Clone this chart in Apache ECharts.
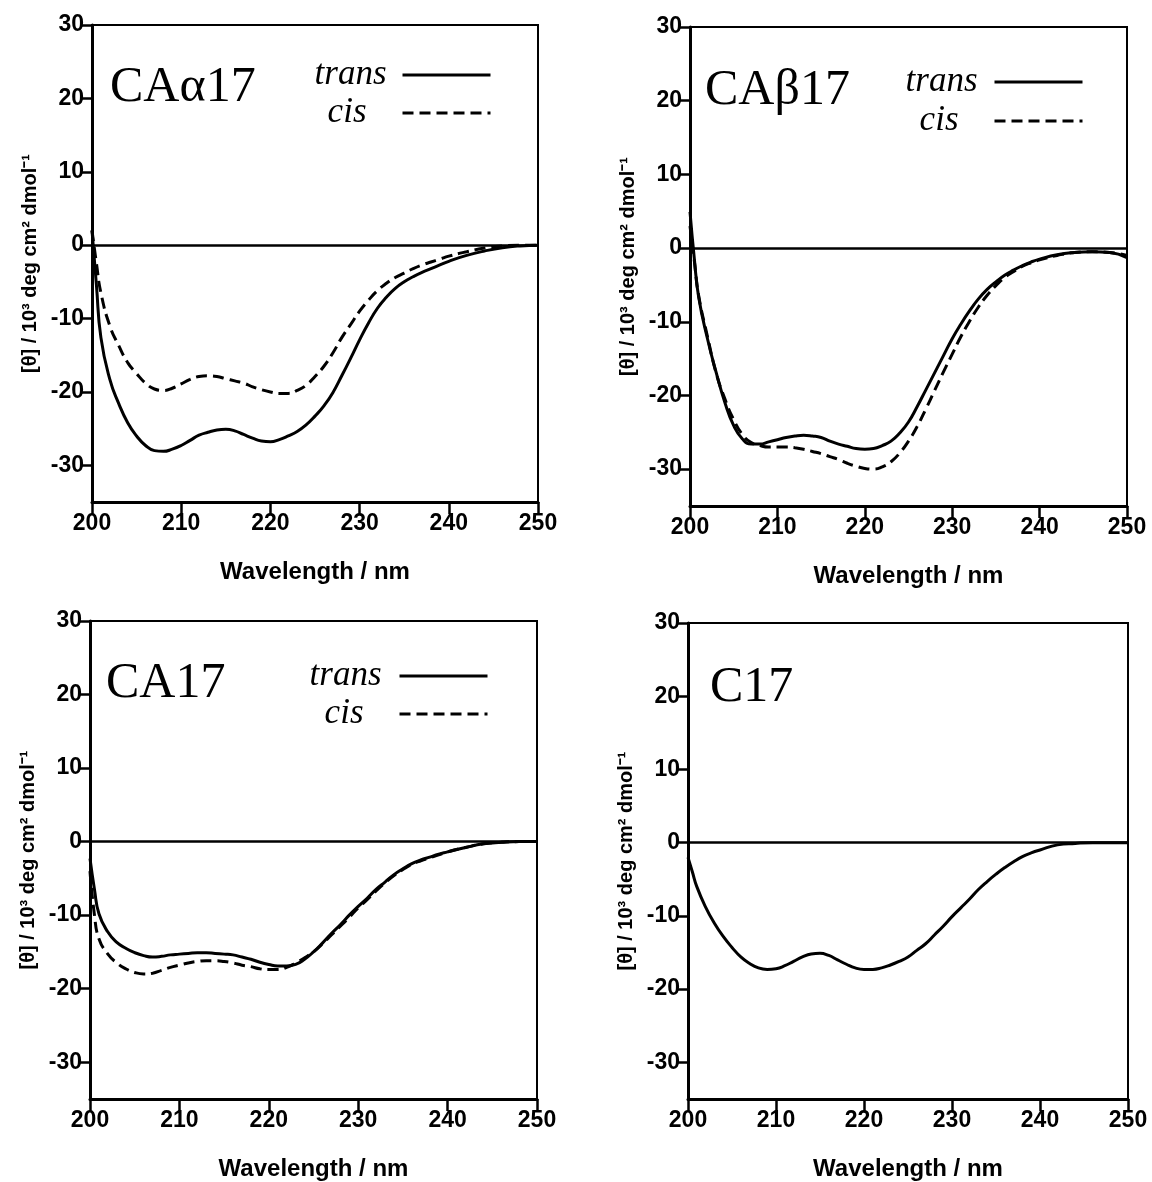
<!DOCTYPE html>
<html>
<head>
<meta charset="utf-8">
<script src="https://cdn.jsdelivr.net/npm/echarts@6/dist/echarts.min.js"></script>
<style>
  html, body { margin: 0; padding: 0; background: #fff; }
  #chart { width: 1152px; height: 1182px; }
</style>
</head>
<body>
<div id="chart"></div>
<script>
// wavelength points (nm)
const wl = [200, 200.5, 201, 202, 203, 204, 205, 206, 207, 208, 209, 210, 211, 212, 213, 214, 215, 216, 217, 218, 219, 220,
  221, 222, 223, 224, 225, 226, 227, 228, 229, 230, 231, 232, 233, 234, 235, 236, 237, 238, 239, 240, 242, 244, 246, 248, 250];

// CAα17
const aTrans = [2.0, -5.5, -12.6, -18.3, -21.6, -24.2, -26, -27.3, -28, -28.1, -27.8, -27.3, -26.6, -25.9, -25.5, -25.2, -25.1, -25.3, -25.8, -26.3, -26.7, -26.8,
  -26.5, -26, -25.4, -24.5, -23.3, -21.9, -20.1, -17.8, -15.4, -12.9, -10.6, -8.6, -7.1, -5.9, -5.0, -4.3, -3.7, -3.2, -2.7, -2.2, -1.4, -0.8, -0.35, -0.1, 0];
const aCis = [2.0, -2.5, -6.5, -11, -13.7, -16, -17.5, -18.8, -19.6, -19.8, -19.5, -18.9, -18.3, -17.9, -17.8, -17.9, -18.2, -18.5, -18.8, -19.3, -19.7, -20,
  -20.2, -20.2, -19.8, -19.1, -17.9, -16.5, -14.7, -12.6, -10.8, -9.0, -7.5, -6.2, -5.2, -4.4, -3.8, -3.2, -2.7, -2.3, -1.9, -1.5, -0.9, -0.4, -0.1, 0, 0];

// CAβ17
const bTrans = [4.9, -1.5, -6.7, -12.3, -16.9, -21, -24.1, -25.9, -26.6, -26.6, -26.3, -26, -25.7, -25.5, -25.4, -25.5, -25.7, -26.2, -26.6, -26.9, -27.2, -27.3,
  -27.2, -26.8, -26.2, -25.1, -23.6, -21.5, -19.2, -16.9, -14.6, -12.3, -10.3, -8.5, -6.9, -5.6, -4.6, -3.7, -3.0, -2.4, -1.9, -1.5, -0.9, -0.6, -0.5, -0.6, -1.3];
const bCis = [3.0, -1.8, -6.5, -12, -17, -20.5, -23.3, -25.3, -26.4, -26.8, -27, -27, -27, -27.1, -27.3, -27.6, -27.9, -28.3, -28.7, -29.2, -29.6, -29.9,
  -30, -29.7, -29, -27.8, -26.2, -24.2, -21.8, -19.3, -16.8, -14.4, -12, -9.9, -8, -6.4, -5.1, -4, -3.2, -2.5, -2.0, -1.6, -1.0, -0.6, -0.5, -0.6, -1.0];

// CA17
const cTrans = [-2.3, -6.5, -9.8, -12.3, -13.7, -14.5, -15.1, -15.5, -15.7, -15.6, -15.4, -15.3, -15.2, -15.1, -15.1, -15.2, -15.3, -15.4, -15.7, -16, -16.4, -16.7,
  -16.9, -16.9, -16.7, -16, -15, -13.8, -12.5, -11.3, -10, -8.8, -7.7, -6.5, -5.5, -4.5, -3.7, -3, -2.5, -2.1, -1.7, -1.4, -0.8, -0.3, -0.1, 0, 0];
const cCis = [-4.0, -10, -13.2, -15.3, -16.5, -17.3, -17.8, -18, -17.9, -17.5, -17.1, -16.8, -16.5, -16.3, -16.2, -16.2, -16.3, -16.5, -16.8, -17, -17.3, -17.4,
  -17.4, -17.1, -16.5, -15.8, -15, -13.9, -12.7, -11.5, -10.3, -9.0, -7.9, -6.7, -5.6, -4.6, -3.8, -3.1, -2.6, -2.2, -1.8, -1.4, -0.8, -0.3, -0.1, 0, 0];

// C17
const dTrans = [-2, -4, -6, -8.8, -11, -12.8, -14.3, -15.6, -16.5, -17.1, -17.3, -17.2, -16.8, -16.2, -15.6, -15.2, -15.1, -15.4, -16, -16.6, -17.1, -17.3,
  -17.3, -17.1, -16.7, -16.2, -15.6, -14.7, -13.8, -12.6, -11.4, -10.1, -8.9, -7.7, -6.4, -5.3, -4.3, -3.4, -2.6, -1.9, -1.4, -1, -0.3, -0.1, 0, 0, 0];

const yTicks = [-30, -20, -10, 0, 10, 20, 30];
const panelNames = ['CAα17', 'CAβ17', 'CA17', 'C17'];

const grids = [
  { left: 92, top: 25, width: 446, height: 477 },
  { left: 690, top: 27, width: 437, height: 479 },
  { left: 90, top: 621, width: 447, height: 481 },
  { left: 688, top: 623, width: 440, height: 484 },
];
const titlePos = [[110, 63], [705, 66], [106, 659], [710, 663]];

const sans = 'Liberation Sans, Arial, sans-serif';
const serif = 'Liberation Serif, Times New Roman, serif';

function pairs(vals) {
  return wl.map((x, i) => [x, vals[i]]);
}

// ticks only showed with a small label margin, so labels sit close to the axis
function makeX(i) {
  return {
    type: 'value', gridIndex: i, min: 200, max: 250, interval: 10,
    name: 'Wavelength / nm', nameLocation: 'middle', nameGap: 58,
    nameTextStyle: { fontFamily: sans, fontWeight: 'bold', fontSize: 24, color: '#000' },
    axisLine: { show: true, onZero: false, lineStyle: { color: '#000', width: 3 } },
    axisTick: { show: true, length: 12, lineStyle: { color: '#000', width: 2.5 } },
    axisLabel: { color: '#000', fontFamily: sans, fontWeight: 'bold', fontSize: 23, margin: 10 },
    splitLine: { show: false },
  };
}

function makeY(i) {
  return {
    type: 'value', gridIndex: i, min: -35, max: 30,
    name: '[θ] / 10³ deg cm² dmol⁻¹', nameLocation: 'middle', nameGap: 52, nameRotate: 90,
    nameTextStyle: { fontFamily: sans, fontWeight: 'bold', fontSize: 20, color: '#000' },
    axisLine: { show: true, onZero: false, lineStyle: { color: '#000', width: 3 } },
    axisTick: { show: true, length: 12, customValues: yTicks, lineStyle: { color: '#000', width: 2.5 } },
    axisLabel: { customValues: yTicks, color: '#000', fontFamily: sans, fontWeight: 'bold', fontSize: 23, margin: 8 },
    splitLine: { show: false },
  };
}

function line(name, vals, i, dashed, zero) {
  const s = {
    name: name, type: 'line', xAxisIndex: i, yAxisIndex: i,
    data: pairs(vals), symbol: 'none', smooth: 0.5,
    lineStyle: { color: '#000', width: 3, type: dashed ? [11, 6] : 'solid' },
    itemStyle: { color: '#000' },
  };
  if (zero) {
    s.markLine = {
      silent: true, symbol: 'none', label: { show: false },
      lineStyle: { color: '#000', width: 2.5, type: 'solid' },
      data: [{ yAxis: 0 }],
    };
  }
  return s;
}

function legendFor(name, right, top, padRight) {
  return {
    data: [name], orient: 'vertical', right: right, top: top, padding: 0,
    itemWidth: 88, itemHeight: 14, align: 'right', selectedMode: false,
    itemStyle: { color: 'rgba(0,0,0,0)', borderColor: 'rgba(0,0,0,0)', borderWidth: 0 },
    lineStyle: { width: 3 },
    textStyle: { fontFamily: serif, fontStyle: 'italic', fontSize: 35, color: '#000', lineHeight: 36, padding: [0, padRight, 0, 0] },
  };
}

const panels = [0, 1, 2, 3];

const option = {
  animation: false,
  backgroundColor: '#fff',
  title: panelNames.map((t, i) => ({
    text: t, left: titlePos[i][0], top: titlePos[i][1], padding: 0,
    textStyle: { fontFamily: serif, fontWeight: 'normal', fontSize: 50, color: '#000' },
  })),
  legend: [
    legendFor('trans', 660, 57, 11), legendFor('cis', 660, 95, 31),
    legendFor('trans', 68, 64, 12), legendFor('cis', 68, 103, 31),
    legendFor('trans', 663, 658, 13), legendFor('cis', 663, 696, 31),
  ],
  grid: grids.map(g => Object.assign({ show: true, borderColor: '#000', borderWidth: 2, backgroundColor: 'transparent' }, g)),
  xAxis: panels.map(makeX),
  yAxis: panels.map(makeY),
  series: [
    line('trans', aTrans, 0, false, true), line('cis', aCis, 0, true),
    line('trans', bTrans, 1, false, true), line('cis', bCis, 1, true),
    line('trans', cTrans, 2, false, true), line('cis', cCis, 2, true),
    line('C17', dTrans, 3, false, true),
  ],
};

const chart = echarts.init(document.getElementById('chart'), null, { renderer: 'canvas' });
chart.setOption(option);
</script>
</body>
</html>
